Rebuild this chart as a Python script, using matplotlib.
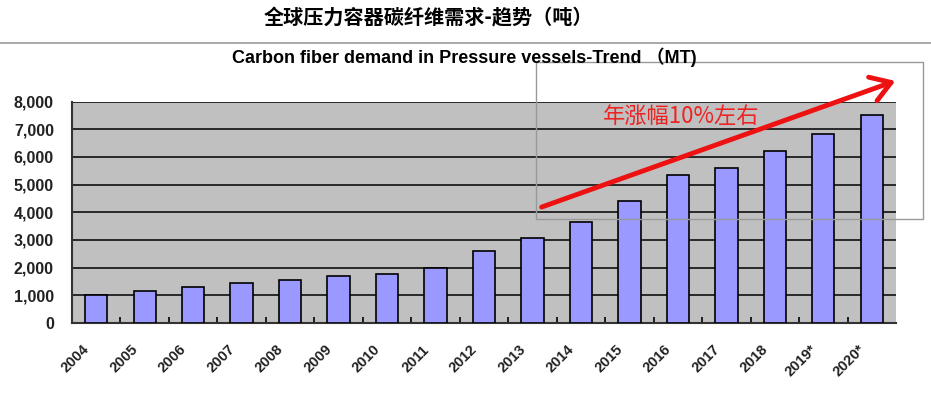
import matplotlib.pyplot as plt
import matplotlib.transforms as mtransforms
from matplotlib.patches import Rectangle, FancyArrowPatch

years = ['2004', '2005', '2006', '2007', '2008', '2009', '2010', '2011', '2012',
         '2013', '2014', '2015', '2016', '2017', '2018', '2019*', '2020*']
demand = [1000, 1150, 1300, 1440, 1550, 1690, 1770, 1980, 2590,
          3060, 3640, 4400, 5330, 5610, 6200, 6840, 7530]
yticks = [0, 1000, 2000, 3000, 4000, 5000, 6000, 7000, 8000]

plt.rcParams['font.family'] = ['Liberation Sans', 'Noto Sans CJK SC', 'DejaVu Sans']

W, H = 931, 393
fig = plt.figure(figsize=(W / 100, H / 100), dpi=100)
fig.patch.set_facecolor('white')

ax = fig.add_axes([72 / W, 1 - 323 / H, (896 - 72) / W, (323 - 101.5) / H])
ax.set_facecolor('#c0c0c0')

x = list(range(len(years)))
ax.bar(x, demand, width=0.46, color='#9999ff', edgecolor='black', linewidth=1.2, zorder=3)

ax.set_xlim(-0.5, len(years) - 0.5)
ax.set_ylim(0, 8000)
ax.set_yticks(yticks)
ax.set_yticklabels([f'{v:,}' for v in yticks], fontsize=11.5, fontweight='bold', color='#222222')
ax.yaxis.grid(True, color='black', linewidth=1.1, zorder=1)
ax.tick_params(axis='y', length=0, pad=13)

ax.set_xticks(x)
ax.set_xticklabels(years, rotation=45, ha='right', fontsize=10.5, fontweight='bold', color='#222222')
ax.tick_params(axis='x', length=0, pad=14)
offset = mtransforms.ScaledTranslation(-4 / 100, 0, fig.dpi_scale_trans)
for lbl in ax.get_xticklabels():
    lbl.set_transform(lbl.get_transform() + offset)
ax.set_xticks([i + 0.5 for i in x[:-1]], minor=True)
ax.tick_params(axis='x', which='minor', direction='in', length=4, width=1.2, color='black')

for side in ['top', 'right']:
    ax.spines[side].set_visible(False)
for side in ['left', 'bottom']:
    ax.spines[side].set_color('#333333')
    ax.spines[side].set_linewidth(1.5)

# titles
fig.text(428 / W, 1 - 18 / H, '全球压力容器碳纤维需求-趋势（吨）', ha='center', va='center',
         fontsize=14.5, fontweight='bold', family=['Noto Sans CJK SC', 'DejaVu Sans'])
fig.add_artist(plt.Line2D([0, 1], [1 - 43 / H, 1 - 43 / H], color='#999999', linewidth=1.2))
fig.text(464 / W, 1 - 57 / H, 'Carbon fiber demand in Pressure vessels-Trend （MT)', ha='center',
         va='center', fontsize=13, fontweight='bold')

# annotation box and arrow
fig.add_artist(Rectangle((536 / W, 1 - 219 / H), (923 - 536) / W, (219 - 62) / H,
                         transform=fig.transFigure, fill=False, edgecolor='#999999', linewidth=1))
fig.add_artist(FancyArrowPatch((539 / W, 1 - 208 / H), (898 / W, 1 - 80 / H),
                               transform=fig.transFigure, arrowstyle='->,head_length=7,head_width=4.5',
                               color='#ee1111', linewidth=3.5, mutation_scale=2))
fig.text(681 / W, 1 - 116 / H, '年涨幅10%左右', ha='center', va='center', fontsize=16,
         color='#ee2222', family=['Noto Sans CJK SC', 'DejaVu Sans'])

fig.savefig('out.png', dpi=100)
